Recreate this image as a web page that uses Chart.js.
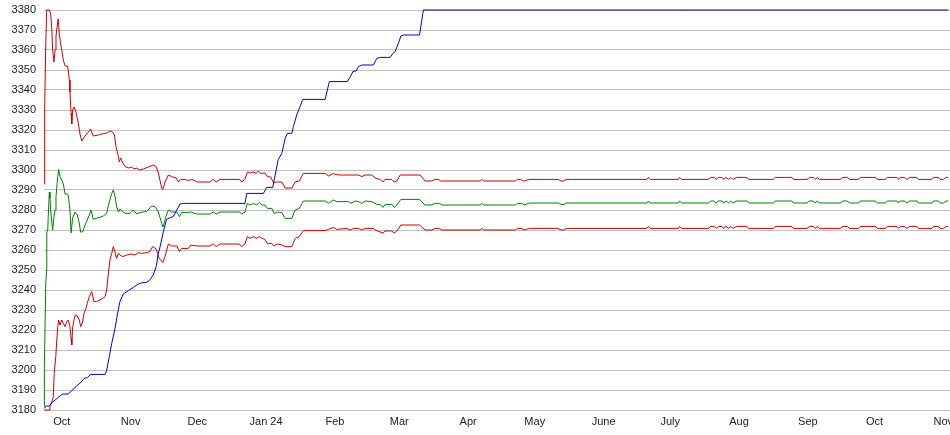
<!DOCTYPE html>
<html>
<head>
<meta charset="utf-8">
<script src="https://cdn.jsdelivr.net/npm/chart.js@4.4.0/dist/chart.umd.min.js"></script>
<style>
  html, body { margin: 0; padding: 0; background: #fff; overflow: hidden; }
  #chart { display: block; }
</style>
</head>
<body>
<canvas id="chart" width="950" height="435"></canvas>
<script>
// x = days since 23 Sep 2023, y = value
var monthDays = [8, 39, 69, 100, 131, 160, 191, 221, 252, 282, 313, 344, 374, 405];
var monthLabels = ["Oct", "Nov", "Dec", "Jan 24", "Feb", "Mar", "Apr", "May", "June", "July", "Aug", "Sep", "Oct", "Nov"];

var upperRed = [[0,3293],[0.3,3330],[0.7,3358],[1.2,3380],[2.4,3380],[3.0,3378],[3.5,3371],[3.9,3360],[4.5,3354],[5.0,3360],[5.4,3367],[6.0,3372.5],[6.4,3375.5],[6.9,3368],[7.5,3363],[8.0,3360],[8.7,3355],[9.5,3352],[10.5,3352],[10.9,3350],[11.4,3345],[11.7,3339],[12.2,3328.5],[12.5,3323],[12.9,3330],[13.5,3331.5],[14.4,3329],[15.5,3323],[16.2,3318],[17.0,3314.5],[18.5,3317],[20.0,3319],[21.0,3320.5],[22.2,3317],[24.5,3317.5],[26.0,3318],[28.2,3318.5],[29.7,3319.5],[30.9,3319],[31.7,3317.5],[32.4,3311.7],[33.5,3306.7],[33.9,3304],[34.5,3306],[35.5,3303.5],[36.5,3301.7],[38.0,3301],[39.5,3301.5],[40.5,3300.5],[41.8,3301],[42.9,3300],[44.7,3300.5],[47.0,3301.5],[49.2,3302.5],[50.5,3301.7],[51.5,3298.5],[53.0,3291],[53.5,3290.3],[54.5,3294],[56.0,3297.5],[57.5,3296.7],[59.5,3296],[60.5,3294],[61.6,3295.3],[63.5,3295.3],[65.0,3294.7],[66.5,3295.3],[68.0,3294.7],[68.8,3294],[74.8,3294],[76.0,3295.3],[77.5,3294],[79.3,3295.3],[88.0,3295.3],[89.0,3294],[90.5,3295.3],[91.6,3299],[92.8,3298.5],[94.3,3299],[95.5,3298.3],[96.5,3299.5],[97.6,3298.3],[99.5,3298.5],[100.6,3296.7],[102.1,3296.5],[103.3,3293.7],[104.8,3294],[107.1,3294],[108.6,3291],[111.6,3291],[113.1,3294],[115.0,3294.5],[116.8,3298.3],[126.6,3298.3],[128.1,3297],[130.3,3298.3],[131.1,3297.8],[133.3,3297.5],[141.6,3297.5],[143.1,3296.7],[144.6,3297.5],[147.6,3297.5],[149.1,3296],[151.4,3295.3],[152.6,3294],[153.6,3295.3],[156.6,3295.3],[157.7,3294],[158.9,3294.5],[160.4,3297.5],[169.4,3297.5],[171.6,3294.5],[174.6,3294.5],[176.1,3295.3],[177.6,3295.3],[178.7,3294.5],[196.4,3294.5],[197.2,3295.3],[197.9,3294.5],[212.2,3294.5],[213.2,3295.3],[214.7,3295.3],[215.9,3294.5],[218.6,3295.3],[231.5,3295.3],[232.9,3294.5],[234.2,3294.5],[235.1,3295.3],[271.5,3295.3],[272.2,3296.3],[273.0,3295.3],[285.7,3295.3],[286.2,3296.3],[287.2,3295.3],[299.2,3295.3],[300.3,3296.3],[301.8,3296.3],[302.7,3295.3],[303.7,3296.3],[305.3,3296.3],[306.0,3295.3],[307.2,3296.3],[308.3,3295.3],[309.3,3296.3],[310.2,3295.3],[312.0,3296.3],[316.5,3296.3],[317.3,3295.3],[328.5,3295.3],[329.3,3296.3],[336.8,3296.3],[337.5,3295.3],[343.6,3295.3],[344.7,3296.3],[346.5,3296.3],[347.3,3295.3],[348.3,3296.3],[349.2,3295.3],[358.6,3295.3],[359.8,3296.3],[361.8,3296.3],[362.7,3295.3],[366.8,3295.3],[367.6,3296.3],[374.3,3296.3],[375.4,3295.3],[378.8,3295.3],[379.9,3296.3],[384.1,3296.3],[384.8,3295.3],[385.6,3296.3],[387.4,3296.3],[388.6,3295.3],[389.8,3296.3],[393.1,3296.3],[393.8,3295.3],[399.9,3295.3],[400.6,3296.3],[402.8,3296.3],[403.6,3295.3],[405.1,3295.3],[406.3,3296.3],[407.2,3296.3]];

var middleGreen = [[0.1,3181.7],[0.15,3200.8],[0.8,3243],[1.2,3250],[1.25,3269],[1.7,3270],[1.9,3276.7],[2.4,3289],[2.7,3286],[3.0,3280],[3.5,3274],[3.9,3270],[4.5,3276.7],[5.0,3280],[5.4,3286.7],[5.7,3290.8],[6.2,3296.7],[6.6,3300.3],[7.2,3296.7],[8.0,3295],[8.7,3293],[9.5,3288],[10.5,3288],[10.9,3287.5],[11.7,3280],[12.2,3268.5],[12.9,3276],[14.0,3279],[15.0,3277.5],[15.8,3274],[16.5,3269],[17.4,3269],[18.5,3272.5],[19.5,3275],[20.4,3277.5],[21.2,3280],[22.2,3275.3],[23.4,3275.8],[25.2,3276.3],[26.7,3277],[28.2,3278.3],[29.4,3284],[30.5,3288.3],[31.2,3290],[32.0,3286.7],[32.7,3281.7],[33.5,3279],[34.2,3280.5],[35.5,3279],[36.9,3278.3],[38.7,3278.3],[40.2,3280],[41.8,3278],[43.2,3278.7],[44.7,3279],[46.3,3279.3],[48.5,3282],[50.0,3281.7],[51.5,3279],[53.0,3273.3],[53.6,3271.5],[54.9,3276.7],[56.0,3280],[57.5,3279],[59.8,3279],[61.0,3276.7],[62.0,3278.7],[65.0,3278.7],[66.1,3279],[68.8,3278],[74.8,3278],[76.3,3279],[77.5,3278],[79.3,3279],[88.0,3279],[89.0,3278],[90.5,3279],[91.6,3283.3],[92.8,3282.5],[94.3,3283.3],[95.8,3282.5],[97.0,3283.7],[98.2,3282.5],[99.5,3282.5],[100.6,3280.8],[102.6,3280.8],[103.6,3278.3],[105.1,3279],[107.1,3278.7],[108.6,3275.8],[111.6,3275.8],[113.1,3280],[115.0,3280.8],[116.8,3284.5],[126.6,3284.5],[128.1,3283.3],[130.3,3285],[131.9,3284.2],[137.1,3284.2],[138.2,3283.3],[140.1,3284.5],[141.6,3284.2],[143.1,3283.3],[144.6,3284.5],[147.6,3284.2],[149.9,3282.8],[151.4,3282.8],[152.6,3281.3],[153.6,3282.8],[156.6,3282.8],[157.7,3281.3],[158.9,3282.5],[160.7,3285.3],[169.1,3285.3],[171.6,3282.5],[174.6,3282.5],[176.1,3283.3],[178.1,3283.3],[179.2,3282.5],[196.4,3282.5],[197.2,3283.3],[197.9,3282.5],[212.2,3282.5],[213.2,3283.3],[215.2,3283.3],[216.2,3282.5],[218.6,3283.5],[231.5,3283.5],[232.9,3282.8],[234.2,3282.8],[235.1,3283.5],[271.5,3283.5],[272.2,3284.5],[273.0,3283.5],[285.7,3283.5],[286.2,3284.5],[287.2,3283.5],[299.2,3283.5],[300.3,3284.5],[301.8,3284.5],[302.7,3283.5],[303.7,3284.5],[305.3,3284.5],[306.0,3283.5],[307.2,3284.5],[308.3,3283.5],[309.3,3284.5],[310.2,3283.5],[312.0,3284.5],[316.5,3284.5],[317.3,3283.5],[328.5,3283.5],[329.3,3284.5],[336.8,3284.5],[337.5,3283.5],[343.6,3283.5],[344.7,3284.5],[346.5,3284.5],[347.3,3283.5],[348.3,3284.5],[349.2,3283.5],[358.6,3283.5],[359.8,3284.5],[361.8,3284.5],[362.7,3283.5],[366.8,3283.5],[367.6,3284.5],[374.3,3284.5],[375.4,3283.5],[378.8,3283.5],[379.9,3284.5],[384.1,3284.5],[384.8,3283.5],[385.6,3284.5],[387.4,3284.5],[388.6,3283.5],[389.8,3284.5],[393.1,3284.5],[393.8,3283.5],[399.9,3283.5],[400.6,3284.5],[402.8,3284.5],[403.6,3283.5],[405.1,3283.5],[406.3,3284.5],[407.2,3284.5]];

var lowerRed = [[0.1,3180],[2.4,3180],[2.7,3181.7],[3.5,3184],[4.2,3186.7],[4.6,3198.3],[5.3,3206.7],[5.7,3214],[6.2,3221.7],[6.6,3225],[7.2,3222.5],[8.0,3225],[8.7,3223.3],[9.5,3221.7],[10.2,3224],[10.9,3225],[11.7,3221.7],[12.2,3215.8],[12.5,3212.5],[12.9,3221],[13.5,3225],[14.1,3227.5],[15.0,3227],[15.9,3225],[16.5,3221.7],[17.4,3224],[18.0,3228.3],[18.9,3230.8],[19.5,3233.3],[20.4,3236.7],[21.5,3239.2],[22.5,3234.2],[23.7,3234.2],[25.2,3235],[26.4,3235.8],[27.5,3236.7],[28.2,3240],[29.0,3248.3],[29.7,3255],[30.5,3258.3],[31.2,3261.7],[32.0,3259],[32.7,3255.8],[33.5,3258.3],[34.2,3257.5],[35.5,3256.7],[37.3,3257.5],[39.5,3258],[41.0,3257.5],[42.5,3258.7],[44.0,3258.3],[46.3,3258.7],[47.7,3259.2],[48.9,3261.7],[50.5,3260.5],[51.9,3255.8],[53.5,3253.7],[54.5,3256.7],[56.0,3263],[57.5,3262],[59.8,3262],[61.0,3259.2],[62.0,3260.8],[65.0,3260.8],[66.1,3262.5],[68.8,3262],[74.8,3262],[76.3,3263],[77.5,3261.7],[79.3,3263],[88.0,3263],[89.0,3261.7],[90.5,3263],[91.6,3266.7],[92.8,3265.8],[94.3,3266.7],[95.8,3265.8],[97.0,3266.7],[98.2,3265.8],[99.5,3265.3],[100.6,3263.3],[102.6,3263.3],[103.6,3262],[105.1,3263],[107.1,3262.5],[108.6,3261.7],[111.6,3261.7],[113.1,3265.8],[115.0,3266.7],[116.8,3269.7],[126.6,3269.7],[128.1,3270.3],[130.3,3271.3],[131.9,3270.3],[136.4,3270.8],[137.8,3270],[139.6,3270.8],[141.6,3270.8],[143.1,3270],[144.6,3270.8],[148.3,3270.8],[149.1,3270],[152.6,3268.5],[153.6,3269.5],[156.6,3269.5],[157.7,3268.5],[158.9,3269.5],[160.7,3272.5],[169.1,3272.5],[171.6,3270],[174.6,3270],[176.1,3270.8],[178.1,3270.8],[179.2,3270],[196.4,3270],[197.2,3270.8],[197.9,3270],[212.2,3270],[213.2,3270.8],[215.2,3270.8],[216.2,3270],[218.6,3270.8],[231.5,3270.8],[232.9,3270],[234.2,3270],[235.1,3270.8],[271.5,3270.8],[272.2,3271.8],[273.0,3270.8],[285.7,3270.8],[286.2,3271.8],[287.2,3270.8],[299.2,3270.8],[300.3,3271.8],[301.8,3271.8],[302.7,3270.8],[303.7,3271.8],[305.3,3271.8],[306.0,3270.8],[307.2,3271.8],[308.3,3270.8],[309.3,3271.8],[310.2,3270.8],[312.0,3271.8],[316.5,3271.8],[317.3,3270.8],[328.5,3270.8],[329.3,3271.8],[336.8,3271.8],[337.5,3270.8],[343.6,3270.8],[344.7,3271.8],[346.5,3271.8],[347.3,3270.8],[348.3,3271.8],[349.2,3270.8],[358.6,3270.8],[359.8,3271.8],[361.8,3271.8],[362.7,3270.8],[366.8,3270.8],[367.6,3271.8],[374.3,3271.8],[375.4,3270.8],[378.8,3270.8],[379.9,3271.8],[384.1,3271.8],[384.8,3270.8],[385.6,3271.8],[387.4,3271.8],[388.6,3270.8],[389.8,3271.8],[393.1,3271.8],[393.8,3270.8],[399.9,3270.8],[400.6,3271.8],[402.8,3271.8],[403.6,3270.8],[405.1,3270.8],[406.3,3271.8],[407.2,3271.8]];

var blueRise = [[0.1,3180.8],[0.9,3182],[2.4,3182],[3.5,3183.7],[5.0,3185],[6.4,3186.3],[8.4,3188],[10.9,3188],[12.5,3189.7],[14.7,3192],[17.0,3194.2],[18.0,3195.8],[19.5,3196.2],[21.0,3197.8],[27.5,3197.8],[28.2,3199.7],[29.4,3206.7],[30.5,3213.3],[32.0,3220.8],[33.0,3227.5],[34.2,3234.2],[35.7,3238],[38.0,3239.7],[40.2,3241.3],[42.5,3243],[44.5,3243.7],[45.9,3243.7],[47.4,3244.7],[49.2,3247.5],[50.5,3251.7],[51.5,3258.3],[52.3,3261.7],[53.7,3269],[55.2,3275.3],[56.8,3276.2],[58.2,3276.7],[59.8,3280],[61.3,3283],[62.7,3283.3],[90.5,3283.3],[91.3,3288.3],[98.8,3288.3],[100.3,3291.3],[103.0,3291.3],[104.1,3297.5],[105.5,3305.3],[107.1,3308.3],[108.6,3315.8],[109.6,3318.3],[111.6,3318.3],[112.3,3321.7],[113.8,3327.5],[115.3,3331.7],[116.5,3335.3],[126.6,3335.3],[127.6,3340],[128.5,3344.2],[136.6,3344.2],[137.8,3346.3],[139.1,3349.2],[140.5,3349.5],[141.6,3351.7],[143.1,3352.5],[148.3,3352.5],[149.9,3355.8],[151.4,3356.3],[155.9,3356.3],[157.1,3358.3],[158.1,3359.2],[159.6,3363.3],[160.7,3367],[161.8,3367.5],[169.1,3367.5],[169.7,3371.7],[170.6,3378.3],[170.9,3380]];

var topFlat = [[170.9,3380],[407.2,3380]];

var yTicks = { min: 3180, max: 3380, step: 10 };

function pts(arr) {
  return arr.map(function (p) { return { x: p[0], y: p[1] }; });
}

function line(data, color) {
  return {
    data: pts(data),
    borderColor: color,
    borderWidth: 1,
    pointRadius: 0,
    tension: 0,
    fill: false,
    clip: 4
  };
}

var font = { family: "'Liberation Sans', Arial, sans-serif", size: 11 };

var ctx = document.getElementById("chart").getContext('2d');
var chart = new Chart(ctx, {
  type: 'line',
  data: {
    datasets: [
      line(topFlat, '#000080'),
      line(blueRise, '#0000d0'),
      line(upperRed, '#cc0000'),
      line(middleGreen, '#008000'),
      line(lowerRed, '#cc0000')
    ]
  },
  options: {
    responsive: false,
    animation: false,
    events: [],
    layout: { padding: { top: 10, right: 0, bottom: 0, left: 0 } },
    plugins: { legend: { display: false }, tooltip: { enabled: false } },
    scales: {
      x: {
        type: 'linear',
        min: 0,
        max: 408,
        grid: { display: false, drawTicks: false },
        border: { display: false },
        ticks: {
          font: font,
          color: '#222',
          padding: 5,
          maxRotation: 0,
          autoSkip: false,
          callback: function (v) {
            var i = monthDays.indexOf(v);
            return i >= 0 ? monthLabels[i] : '';
          }
        },
        afterBuildTicks: function (scale) {
          scale.ticks = monthDays.map(function (d) { return { value: d }; });
        },
        afterFit: function (scale) {
          scale.paddingLeft = 0;
          scale.paddingRight = 0;
          scale.height = 25;
        }
      },
      y: {
        min: yTicks.min,
        max: yTicks.max,
        grid: { color: '#c0c0c0', lineWidth: 1, drawTicks: false },
        border: { display: false },
        ticks: {
          stepSize: yTicks.step,
          font: font,
          color: '#222',
          padding: 8,
          callback: function (v) { return String(v); }
        },
        afterFit: function (scale) {
          scale.width = 44;
          scale.paddingTop = 0;
          scale.paddingBottom = 0;
        }
      }
    }
  }
});
</script>
</body>
</html>
